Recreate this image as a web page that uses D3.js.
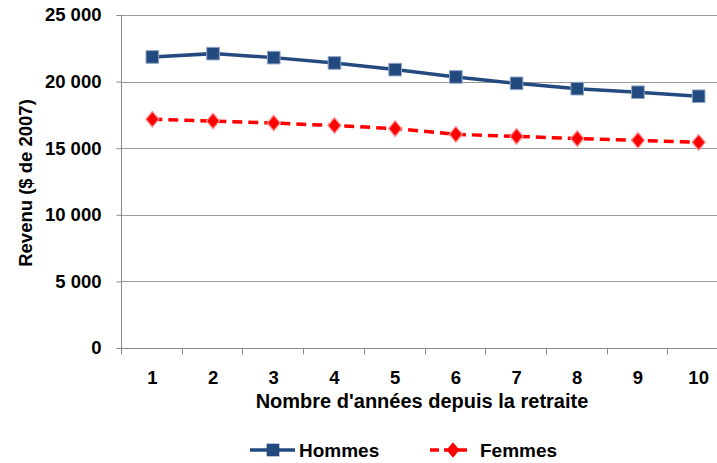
<!DOCTYPE html>
<html lang="fr">
<head>
<meta charset="utf-8">
<title>Revenu depuis la retraite</title>
<script src="https://cdn.jsdelivr.net/npm/d3@7"></script>
<style>
body { margin: 0; background: #fff; }
svg { display: block; font-family: "Liberation Sans", Arial, sans-serif; font-weight: bold; }
</style>
</head>
<body>
<div id="chart"></div>
<script>
// data
var years = [1, 2, 3, 4, 5, 6, 7, 8, 9, 10];
var hommes = [21850, 22100, 21800, 21400, 20900, 20350, 19870, 19470, 19200, 18900];
var femmes = [17170, 17040, 16890, 16700, 16470, 16040, 15890, 15720, 15590, 15440];
var yTicks = [0, 5000, 10000, 15000, 20000, 25000];

var w = 717, h = 463;
var mLeft = 121, mTop = 15, mBottom = 348, plotW = 607;

var svg = d3.select("#chart").append("svg")
  .attr("width", w).attr("height", h);

var x = d3.scaleBand().domain(years).range([mLeft, mLeft + plotW]);
var y = d3.scaleLinear().domain([0, 25000]).range([mBottom, mTop]);

var fmt = function(d) { return d3.format(",")(d).replace(/,/g, " "); };

// gridlines
svg.append("g").selectAll("line").data(yTicks.slice(1)).enter().append("line")
  .attr("x1", mLeft).attr("x2", w)
  .attr("y1", function(d) { return Math.round(y(d)) + 0.5; })
  .attr("y2", function(d) { return Math.round(y(d)) + 0.5; })
  .attr("stroke", "#9a9a9a").attr("stroke-width", 1);

// y axis
var yAxis = svg.append("g")
  .attr("transform", "translate(" + (mLeft + 0.5) + ",0)")
  .call(d3.axisLeft(y).tickValues(yTicks).tickSize(5).tickPadding(15).tickFormat(fmt));
yAxis.selectAll("line, path").attr("stroke", "#888");
yAxis.select(".domain").attr("d", "M0," + mTop + "V" + mBottom);
yAxis.selectAll("text").attr("font-size", 18.5).attr("fill", "#000")
  .attr("font-family", "Liberation Sans, Arial, sans-serif").attr("font-weight", "bold");

// x axis
var xAxis = svg.append("g")
  .attr("transform", "translate(0," + (mBottom + 0.5) + ")");
xAxis.append("line").attr("x1", mLeft).attr("x2", w).attr("stroke", "#888");
xAxis.selectAll("line.tk").data(years).enter().append("line")
  .attr("class", "tk")
  .attr("x1", function(d) { return Math.round(x(d)) + 0.5; })
  .attr("x2", function(d) { return Math.round(x(d)) + 0.5; })
  .attr("y1", 0).attr("y2", 6).attr("stroke", "#888");
xAxis.selectAll("text").data(years).enter().append("text")
  .attr("x", function(d) { return x(d) + x.bandwidth() / 2 + 1; })
  .attr("y", 35)
  .attr("text-anchor", "middle").attr("font-size", 18.5)
  .text(function(d) { return d; });

// titles
svg.append("text")
  .attr("x", 422).attr("y", 408)
  .attr("text-anchor", "middle").attr("font-size", 20)
  .text("Nombre d'années depuis la retraite");
svg.append("text")
  .attr("transform", "translate(32,183) rotate(-90)")
  .attr("text-anchor", "middle").attr("font-size", 18.5)
  .text("Revenu ($ de 2007)");

// lines
var cx = function(d, i) { return x(years[i]) + x.bandwidth() / 2 + 1; };
var line = d3.line().x(cx).y(function(d) { return y(d); });

svg.append("path").datum(femmes)
  .attr("d", line).attr("fill", "none")
  .attr("stroke", "#ff0000").attr("stroke-width", 3.5)
  .attr("stroke-dasharray", "10,6");
svg.append("path").datum(hommes)
  .attr("d", line).attr("fill", "none")
  .attr("stroke", "#234a7e").attr("stroke-width", 3.5);

// markers
var sq = d3.symbol().type(d3.symbolSquare).size(160);
var dm = d3.symbol().type(d3.symbolDiamond).size(70);

svg.append("g").selectAll("path").data(hommes).enter().append("path")
  .attr("d", sq)
  .attr("transform", function(d, i) { return "translate(" + cx(d, i) + "," + y(d) + ")"; })
  .attr("fill", "#234a7e").attr("stroke", "#8fa6c6").attr("stroke-width", 1);
svg.append("g").selectAll("path").data(femmes).enter().append("path")
  .attr("d", dm)
  .attr("transform", function(d, i) { return "translate(" + cx(d, i) + "," + y(d) + ") scale(1.45,1)"; })
  .attr("fill", "#ff0000").attr("stroke", "#ff9090").attr("stroke-width", 1);

// legend
var leg = svg.append("g").attr("transform", "translate(0,450)");
leg.append("line").attr("x1", 250).attr("x2", 295).attr("stroke", "#234a7e").attr("stroke-width", 3.5);
leg.append("path").attr("d", sq).attr("transform", "translate(273,0)").attr("fill", "#234a7e");
leg.append("text").attr("x", 299).attr("y", 7).attr("font-size", 19).text("Hommes");
leg.append("line").attr("x1", 430).attr("x2", 472).attr("stroke", "#ff0000")
  .attr("stroke-width", 3.5).attr("stroke-dasharray", "9,5");
leg.append("path").attr("d", dm).attr("transform", "translate(453,0) scale(1.45,1)").attr("fill", "#ff0000");
leg.append("text").attr("x", 480).attr("y", 7).attr("font-size", 19).text("Femmes");
</script>
</body>
</html>
